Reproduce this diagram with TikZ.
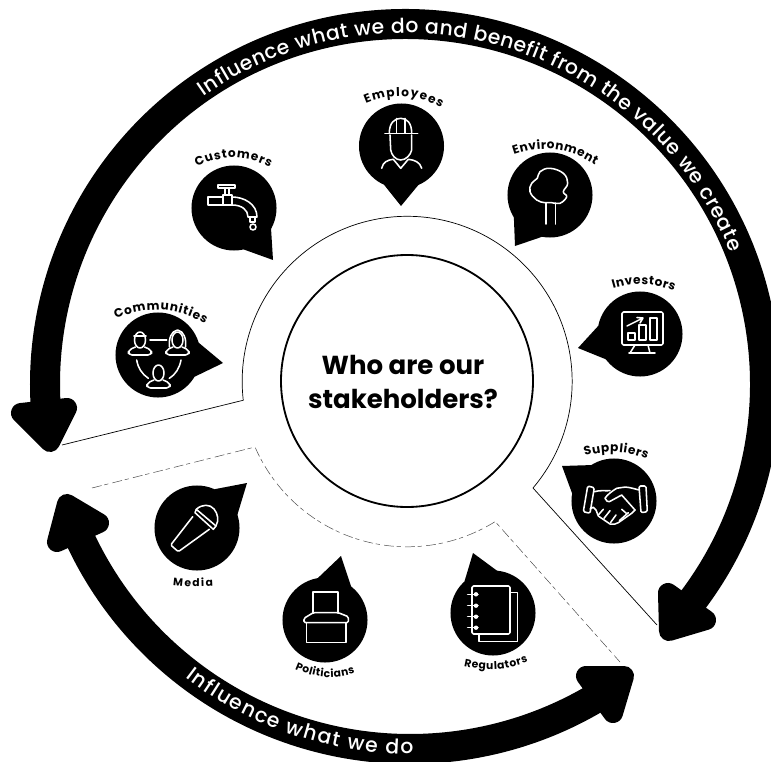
\documentclass[tikz,border=0pt]{standalone}
\usepackage{fontspec}
\setmainfont{Poppins}
\newfontfamily\bandfamily{Poppins Medium}
\usepackage{tikz}
\usetikzlibrary{calc,decorations.text}

\tikzset{
	band/.style={line width=.75cm,black},
	arrowtip/.style={fill=black,draw=black,line width=.5cm,line join=round},
	bubble/.style={circle,fill=black,minimum size=2.125cm,inner sep=0pt},
	seam/.style={black,line width=.5pt},
	faint/.style={black!70,line width=.35pt,dash pattern=on 7pt off 2pt on 3pt off 3pt},
	icon/.style={shift={(#1)},y=.025cm,white,line width=1.1pt,line join=round,line cap=round}
}

\newcommand{\bandfont}{\bandfamily\fontsize{14.5}{14.5}\selectfont\color{white}}
\newcommand{\tagfont}{\fontsize{8.6}{9}\selectfont\bfseries}
\newcommand{\tagfontsmall}{\fontsize{7.6}{8}\selectfont\bfseries}
\newcommand{\bubbletag}[5]{\path[decorate,decoration={text along path,text align=fit to path,text={|#5|#1}}] #2 to[#4] #3;}

\begin{document}
\begin{tikzpicture}[x=.025cm,y=-.025cm]
	\useasboundingbox (0,0) rectangle (771,762);

	\coordinate (hub) at (407,381);
	\coordinate (upper) at (405,384);
	\coordinate (lower) at (410,385);

	% outer bands
	\draw [band] (upper) ++(38:360) arc [start angle=38, end angle=-184, radius=360];
	\draw [band] (lower) ++(156:364) arc [start angle=156, end angle=58.5, radius=364];

	\draw [arrowtip] (21,413) -- (67,408) -- (50,442) -- cycle;
	\draw [arrowtip] (668,593) -- (706,620) -- (669,631) -- cycle;
	\draw [arrowtip] (67,504) -- (99,523) -- (57,542) -- cycle;
	\draw [arrowtip] (586,676) -- (624,676) -- (613,713) -- cycle;

	\path [decorate, decoration={text along path, text align=fit to path, text={|\bandfont|Influence what we do and benefit from the value we create}}]
		(upper) ++(-125:351) arc [start angle=-125, end angle=-22, radius=351];
	\path [decorate, decoration={text along path, text align=fit to path, text={|\bandfont|Influence what we do}}]
		(lower) ++(127.5:369) arc [start angle=127.5, end angle=89.5, radius=369];

	% centre
	\draw [black, line width=1.3pt] (hub) circle [radius=126];
	\node (title) at (403,382) [align=center, font=\fontsize{18.5}{24.5}\selectfont\bfseries] {Who are our\\stakeholders?};

	% wedges
	\draw [seam] (657,625) -- (533,488) arc [start angle=40.3, end angle=-186.6, radius=165] -- (62,445);
	\draw [faint] (92,488) -- (255,447) arc [start angle=156.5, end angle=58, radius=166] -- (620,662);

	% bubbles
	\node [bubble] (employees) at (401.5,146) {};
	\node [bubble] (customers) at (234,208) {};
	\node [bubble] (communities) at (158,355) {};
	\node [bubble] (environment) at (550,195) {};
	\node [bubble] (investors) at (640,334) {};
	\node [bubble] (suppliers) at (614,501) {};
	\node [bubble] (regulators) at (493,613) {};
	\node [bubble] (politicians) at (325,620) {};
	\node [bubble] (media) at (197,528) {};

	\foreach \who/\tipx/\tipy in {employees/401/206, customers/273/260, communities/223/363, environment/515/246, investors/578/348, suppliers/562/466, regulators/473/553, politicians/341/556, media/247/483}
		\fill (\tipx,\tipy) -- ($(\who)!1.06cm!24:(\tipx,\tipy)$) -- ($(\who)!1.06cm!-24:(\tipx,\tipy)$) -- cycle;

	% labels
	\bubbletag{Employees}{(366,104)}{(441,108)}{bend left=26}{\tagfont}
	\bubbletag{Customers}{(197,167)}{(270,167)}{bend left=26}{\tagfont}
	\bubbletag{Communities}{(116,319)}{(205,324)}{bend left=26}{\tagfont}
	\bubbletag{Environment}{(514,155)}{(595,165)}{bend left=26}{\tagfont}
	\bubbletag{Investors}{(613,289)}{(674,291)}{bend left=18}{\tagfont}
	\bubbletag{Suppliers}{(585,456)}{(647,459)}{bend left=18}{\tagfont}
	\bubbletag{Media}{(173,585)}{(213,586)}{bend right=5}{\tagfontsmall}
	\bubbletag{Politicians}{(295,669)}{(355,673)}{bend right=20}{\tagfontsmall}
	\bubbletag{Regulators}{(464,666)}{(528,662)}{bend right=16}{\tagfontsmall}

	% employee
	\begin{scope}[icon=employees]
		\draw (-12.2,12.7) .. controls (-12.2,23) and (-7,27.7) .. (-.8,27.7) .. controls (5.5,27.7) and (10.2,23) .. (10.2,12.7);
		\draw (-16.5,12.7) -- (16.2,12.7);
		\draw (-4.8,27.5) -- (-4.8,13) (3.5,27.5) -- (3.5,13);
		\draw (-11.5,11) -- (-10.8,-4) .. controls (-10,-9) and (-6,-14) .. (-.8,-14) .. controls (4.5,-14) and (9,-9) .. (10.2,-4) -- (10.2,11);
		\draw (-19.8,-22.3) .. controls (-18.5,-16) and (-14,-14) .. (-8.2,-13.3) -- (-.8,-22.3) -- (6.8,-13.3) .. controls (13,-14) and (18.5,-16) .. (20.2,-22.3);
	\end{scope}

	% tap
	\begin{scope}[icon=customers]
		\draw (-16,23) rectangle (1,20);
		\draw (-9,20) -- (-9,13) (-5,20) -- (-5,13);
		\draw (-11,13) rectangle (-2,3);
		\draw (-11,11) -- (-26,11) -- (-26,3) -- (-11,3);
		\draw (-2,11) .. controls (10,11) and (23,4) .. (23,-9) -- (14,-9) .. controls (14,-2) and (8,3) .. (-2,3);
		\draw (16,-9) -- (16,-14) -- (21,-14) -- (21,-9);
		\draw (19,-19) circle [radius=3];
	\end{scope}

	% crowd
	\begin{scope}[icon=communities]
		\draw (-8,15) -- (8.7,15);
		\draw (-21.3,-5) .. controls (-20,-13) and (-16,-19) .. (-9.7,-23.3);
		\draw (23,-5) .. controls (21.5,-13) and (18,-19) .. (11.3,-23.3);
		\foreach \px/\py in {-18/15, 19.5/15, 0.5/-18} {
			\draw (\px,\py) ellipse [x radius=5.5, y radius=8];
			\draw [rounded corners=2.5pt] (\px-4.5,\py-7) -- (\px-11.5,\py-10) -- (\px-11.5,\py-15) -- (\px+11.5,\py-15) -- (\px+11.5,\py-10) -- (\px+4.5,\py-7);
		}
		\draw (11.5,8) .. controls (10.5,16) and (13,24) .. (19.5,25) .. controls (26,24) and (28.5,16) .. (27.5,8);
		\draw (-24,19) -- (-12,19);
	\end{scope}

	% tree
	\begin{scope}[icon=environment]
		\draw plot [smooth cycle, tension=.7] coordinates {(0,26.7) (13.3,21.7) (17.7,11.7) (13.3,3.3) (16.7,-1.7) (10,-8.3) (1.7,-7.7) (-5,-7.7) (-13.3,-5) (-20,3.3) (-18.3,11.7) (-12.7,16.7) (-10,23.3)};
		\draw (-4,-8) -- (-4,-29) (5.5,-8) -- (5.5,-29);
	\end{scope}

	% monitor
	\begin{scope}[icon=investors]
		\draw [rounded corners=1pt] (-18,22) rectangle (23,-11);
		\draw (-5,-11) -- (-10,-19) (8,-11) -- (10,-19) (-11,-19) -- (15,-19);
		\draw (-12,1) rectangle (-5,-6);
		\draw (-1,9) rectangle (6,-6);
		\draw (10,16) rectangle (17,-6);
		\draw (-13,8) -- (3,16) (-3,16.5) -- (3,16) -- (0,11);
	\end{scope}

	% handshake
	\begin{scope}[icon=suppliers]
		\draw [rounded corners=1pt] (-26.3,15) -- (-19.7,13.3) -- (-24,-12.3) -- (-30.7,-10.7) -- cycle;
		\draw [rounded corners=1pt] (25,15) -- (32,15) -- (33.3,-10.7) -- (27,-11.7) -- cycle;
		\draw (25,11) .. controls (18,13) and (12,14.5) .. (9.3,13.7) -- (2.7,12.7) .. controls (-2,10) and (-7,6) .. (-9,2.7) .. controls (-8,0) and (-6,-1) .. (-4.7,-.7) -- (7.7,6) -- (21,-9);
		\draw (-19.7,9.3) .. controls (-14,11) and (-9,10) .. (-4,10.3);
		\draw (-24,-8) -- (-20.7,-6.3) -- (-18,-9) -- (-15.7,-15) -- (-4,-23) .. controls (-1,-24) and (2,-23) .. (4.3,-21.7) -- (17.7,-12.3) -- (21,-9);
		\draw (-15.7,-14) -- (-10.7,-8.3) (-10,-17.3) -- (-4,-9.7) (-3.3,-21.3) -- (2,-14);
		\draw (5.3,-19.7) -- (14.3,-11.7) (7.7,-8.3) -- (12,-12);
	\end{scope}

	% notebook
	\begin{scope}[icon=regulators]
		\draw [rounded corners=1pt] (-21,27) rectangle (17,-21);
		\draw (17,20.7) -- (24.3,20.7) -- (24.3,-28.7) -- (-14,-28.7) -- (-14,-21);
		\foreach \py in {18.7,7.3,-3.7,-14.7} {
			\draw (-25.3,\py) -- (-15,\py);
			\fill (-17,\py) circle [radius=2.2];
		}
	\end{scope}

	% ballot box
	\begin{scope}[icon=politicians]
		\draw (-12,7) -- (-12,28) -- (13,28) -- (13,7);
		\draw [rounded corners=1pt] (-11.7,7.3) -- (-21,1.7) -- (-21,-2.7) -- (23.3,-2.7) -- (23.3,3.3) -- (13.3,7.3) -- cycle;
		\draw (-18.3,-2.7) -- (-18.3,-22.3) -- (21,-22.3) -- (21,-2.7);
	\end{scope}

	% microphone
	\begin{scope}[icon=media]
		\draw (-.7,18.7) -- (19,2) -- (16.3,-1.3) -- (-2,15.3) -- cycle;
		\draw (-.7,18.7) .. controls (5,24) and (13,24) .. (17,19) .. controls (21,14) and (22,8) .. (19,2);
		\draw [rounded corners=1pt] (-4.3,11.3) -- (-26.3,-17) -- (-18.7,-23.7) -- (12.3,-1.3);
	\end{scope}
\end{tikzpicture}
\end{document}
